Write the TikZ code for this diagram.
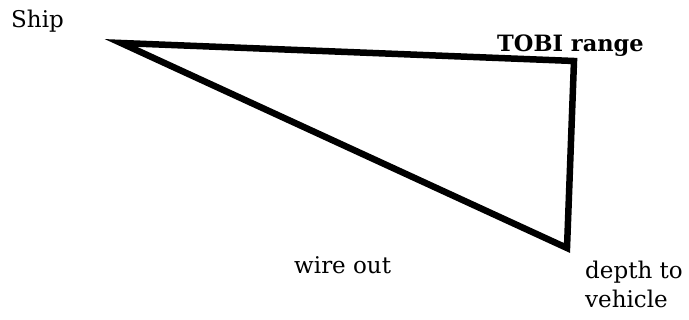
\documentclass[tikz,border=0pt]{standalone}
\usepackage{fontspec}
\setmainfont{DejaVu Serif}
\begin{document}
\begin{tikzpicture}[x=1pt,y=-1pt,
  lbl/.style={anchor=base west,inner sep=0pt,font=\fontsize{23}{29}\selectfont},
  boldlbl/.style={lbl,font=\fontsize{22.5}{28}\selectfont\bfseries},
  edge/.style={line width=6.5pt,line join=miter,miter limit=20}]
\useasboundingbox (0,0) rectangle (689,320);
\coordinate (ship) at (121,43);
\coordinate (tobi) at (574,61);
\coordinate (veh) at (567,248);
\draw[edge] (ship) -- (tobi) -- (veh) -- cycle;
\node[lbl] (shiplbl) at (11,28) {Ship};
\node[boldlbl] (tobilbl) at (497,52) {TOBI range};
\node[lbl] (wire) at (294,274) {wire out};
\node[lbl,align=left,anchor=north west] (depth) at (585,261) {depth to\\vehicle};
\end{tikzpicture}
\end{document}
